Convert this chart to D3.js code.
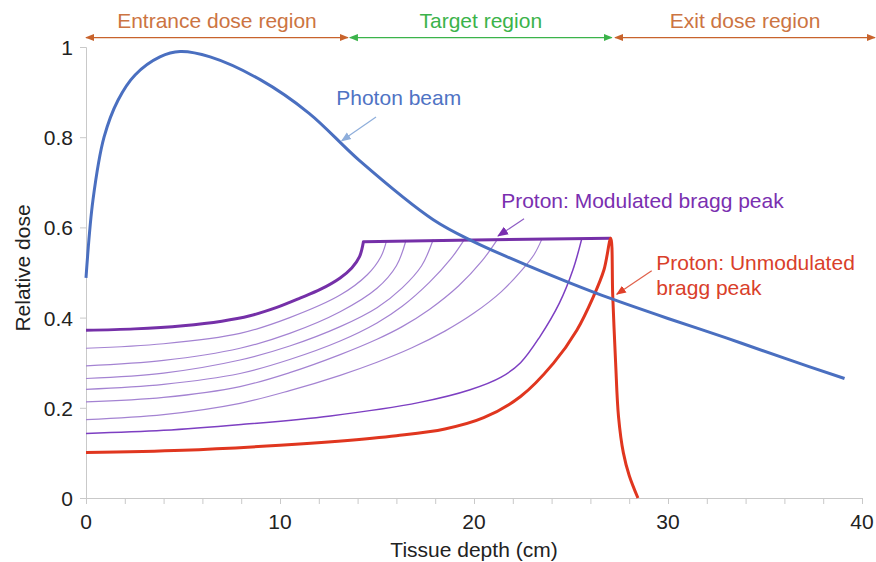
<!DOCTYPE html>
<html lang="en">
<head>
<meta charset="UTF-8">
<title>Depth dose</title>
<style>
  body { margin: 0; background: #fff; }
  text { font-family: "Liberation Sans", Arial, sans-serif; }
</style>
</head>
<body>
<script src="https://d3js.org/d3.v7.min.js"></script>
<script>
// photon beam
const photonDepth = [0, 0.36, 0.93, 1.65, 2.53, 3.81, 4.85, 6.4, 9, 11.5, 14.1, 17.9, 20, 22.9, 25, 27, 30, 33, 36, 39.1];
const photonDose  = [0.488, 0.661, 0.8, 0.882, 0.938, 0.978, 0.99, 0.978, 0.927, 0.853, 0.748, 0.617, 0.568, 0.513, 0.476, 0.443, 0.398, 0.355, 0.31, 0.265];

// unmodulated proton (pristine bragg peak)
const braggDepth = [0, 5, 10, 13, 16, 18.5, 20.5, 22.4, 24.1, 25.3, 26.15, 26.7, 27.05, 27.15, 27.3, 27.45, 27.7, 28.0, 28.45];
const braggDose  = [0.101, 0.106, 0.117, 0.126, 0.138, 0.153, 0.178, 0.225, 0.299, 0.372, 0.446, 0.506, 0.576, 0.45, 0.3, 0.18, 0.1, 0.05, 0];

// modulated (spread out) bragg peak: rising part and flat plateau
const sobpDepth = [0, 2.5, 5, 7, 8.45, 9.8, 11.03, 12.1, 13.1, 13.7, 14.1, 14.3];
const sobpDose  = [0.372, 0.375, 0.382, 0.392, 0.404, 0.422, 0.443, 0.463, 0.488, 0.51, 0.535, 0.568];
const plateauDepth = [14.3, 20, 27.05];
const plateauDose  = [0.568, 0.572, 0.576];

// weighted component peaks (thin lines), shallow to deep
const comp1 = [[0,0.332],[4,0.342],[7.94,0.365],[10.5,0.4],[13.1,0.45],[14.5,0.495],[15.2,0.535],[15.5,0.572]];
const comp2 = [[0,0.293],[4,0.305],[7.94,0.332],[10.5,0.365],[13.1,0.413],[15,0.465],[16,0.515],[16.5,0.572]];
const comp3 = [[0,0.265],[4,0.277],[7.94,0.306],[10.5,0.337],[13.1,0.38],[15,0.422],[16.3,0.466],[17.3,0.515],[17.9,0.573]];
const comp4 = [[0,0.241],[4,0.252],[7.94,0.276],[10.5,0.307],[13.1,0.348],[15,0.388],[16.3,0.425],[17.7,0.478],[18.8,0.53],[19.5,0.573]];
const comp5 = [[0,0.213],[4,0.223],[7.94,0.247],[10.5,0.278],[13.1,0.318],[15,0.352],[16.3,0.38],[17.7,0.418],[19.2,0.47],[20.4,0.525],[21.2,0.573]];
const comp6 = [[0,0.174],[4,0.185],[7.94,0.21],[10.5,0.238],[13.1,0.272],[15,0.301],[16.8,0.333],[18.5,0.37],[20,0.41],[21.4,0.457],[22.5,0.507],[23.1,0.54],[23.5,0.574]];
const comp7 = [[0,0.143],[4,0.15],[8,0.163],[12.6,0.182],[17.2,0.212],[19.8,0.24],[21.4,0.268],[22.4,0.3],[23.4,0.358],[24.4,0.432],[25.1,0.506],[25.55,0.574]];

const xTicks = [0, 10, 20, 30, 40];
const xMinor = d3.range(0, 41, 2);
const yTicks = [0, 0.2, 0.4, 0.6, 0.8, 1];

const regionLabels = ["Entrance dose region", "Target region", "Exit dose region"];
const regionFrom = [0, 13.6, 27.27];
const regionTo = [13.5, 27.1, 40.67];
const regionColors = ["#c8632c", "#3bb34a", "#c8632c"];

const w = 876, h = 562;
const x = d3.scaleLinear().domain([0, 40]).range([86, 862]);
const y = d3.scaleLinear().domain([0, 1]).range([498, 47]);
const fs = 21;

const svg = d3.select("body").append("svg")
    .attr("width", w)
    .attr("height", h);

const defs = svg.append("defs");
const marker = (id, color, size) => {
    defs.append("marker")
        .attr("id", id)
        .attr("viewBox", "0 0 10 10")
        .attr("refX", 9).attr("refY", 5)
        .attr("markerWidth", size).attr("markerHeight", size)
        .attr("markerUnits", "userSpaceOnUse")
        .attr("orient", "auto-start-reverse")
        .append("path")
        .attr("d", "M0,1 L10,5 L0,9 Z")
        .attr("fill", color);
};
marker("m-orange", "#c8632c", 9);
marker("m-green", "#3bb34a", 9);
marker("m-blue", "#8eaedb", 10);
marker("m-purple", "#7a2fb0", 11);
marker("m-red", "#e0402a", 10);

// axes
const axisColor = "#c9c9c9";
const xAxis = svg.append("g").attr("transform", `translate(0,${y(0)})`)
    .call(d3.axisBottom(x).tickValues(xMinor).tickSize(6).tickFormat(""));
xAxis.selectAll("path,line").attr("stroke", axisColor);
svg.append("g").attr("transform", `translate(0,${y(0)})`)
    .selectAll("text").data(xTicks).join("text")
    .attr("x", d => x(d)).attr("y", 31)
    .attr("text-anchor", "middle")
    .attr("font-size", fs).attr("fill", "#222")
    .text(d => d);

const yAxis = svg.append("g").attr("transform", `translate(${x(0)},0)`)
    .call(d3.axisLeft(y).tickValues(yTicks).tickSize(6).tickFormat(""));
yAxis.selectAll("path,line").attr("stroke", axisColor);
svg.append("g").selectAll("text").data(yTicks).join("text")
    .attr("x", 73).attr("y", d => y(d) + 8)
    .attr("text-anchor", "end")
    .attr("font-size", fs).attr("fill", "#222")
    .text(d => d);

svg.append("text")
    .attr("x", (x(0) + x(40)) / 2).attr("y", 557)
    .attr("text-anchor", "middle").attr("font-size", fs).attr("fill", "#222")
    .text("Tissue depth (cm)");
svg.append("text")
    .attr("transform", `translate(30,${y(0.51)}) rotate(-90)`)
    .attr("text-anchor", "middle").attr("font-size", fs).attr("fill", "#222")
    .text("Relative dose");

// curves
const line = d3.line().x(d => x(d[0])).y(d => y(d[1])).curve(d3.curveCatmullRom.alpha(0.5));
const straight = d3.line().x(d => x(d[0])).y(d => y(d[1]));
const zip = (a, b) => a.map((v, i) => [v, b[i]]);

const thin = [comp1, comp2, comp3, comp4, comp5, comp6];
svg.append("g").selectAll("path").data(thin).join("path")
    .attr("d", line)
    .attr("fill", "none")
    .attr("stroke", "#a483d2")
    .attr("stroke-width", 1.2);
svg.append("path").attr("d", line(comp7))
    .attr("fill", "none").attr("stroke", "#7d3fc2").attr("stroke-width", 1.5);

svg.append("path").attr("d", line(zip(sobpDepth, sobpDose)) + straight(zip(plateauDepth, plateauDose)).replace("M", "L"))
    .attr("fill", "none").attr("stroke", "#7530a8").attr("stroke-width", 3)
    .attr("stroke-linejoin", "round");
svg.append("path").attr("d", line(zip(braggDepth, braggDose)))
    .attr("fill", "none").attr("stroke", "#e0361f").attr("stroke-width", 3);
svg.append("path").attr("d", line(zip(photonDepth, photonDose)))
    .attr("fill", "none").attr("stroke", "#4a6fc0").attr("stroke-width", 3);

// region arrows at top
const ry = y(1.021);
regionLabels.forEach((lab, i) => {
    const id = i === 1 ? "m-green" : "m-orange";
    svg.append("line")
        .attr("x1", x(regionFrom[i])).attr("x2", x(regionTo[i]))
        .attr("y1", ry).attr("y2", ry)
        .attr("stroke", regionColors[i]).attr("stroke-width", 1.2)
        .attr("marker-start", `url(#${id})`).attr("marker-end", `url(#${id})`);
    svg.append("text")
        .attr("x", (x(regionFrom[i]) + x(regionTo[i])) / 2).attr("y", 28)
        .attr("text-anchor", "middle").attr("font-size", fs)
        .attr("fill", i === 1 ? "#3bb34a" : "#cc7442")
        .text(lab);
});

// annotations
const note = (tx, ty, lines, color, a0, a1, arrowColor, mk) => {
    const t = svg.append("text").attr("font-size", fs).attr("fill", color);
    lines.forEach((s, i) => t.append("tspan").attr("x", x(tx)).attr("y", y(ty) + i * 25).text(s));
    svg.append("line")
        .attr("x1", x(a0[0])).attr("y1", y(a0[1]))
        .attr("x2", x(a1[0])).attr("y2", y(a1[1]))
        .attr("stroke", arrowColor).attr("stroke-width", 1.2)
        .attr("marker-end", `url(#${mk})`);
};
note(12.9, 0.871, ["Photon beam"], "#4f73c4", [14.95, 0.845], [13.18, 0.792], "#8eaedb", "m-blue");
note(21.4, 0.643, ["Proton: Modulated bragg peak"], "#7a2fb0", [22.58, 0.619], [21.24, 0.581], "#8e5cc4", "m-purple");
note(29.4, 0.506, ["Proton: Unmodulated", "bragg peak"], "#d9402a", [29.16, 0.504], [27.36, 0.452], "#e0604a", "m-red");
</script>
</body>
</html>
